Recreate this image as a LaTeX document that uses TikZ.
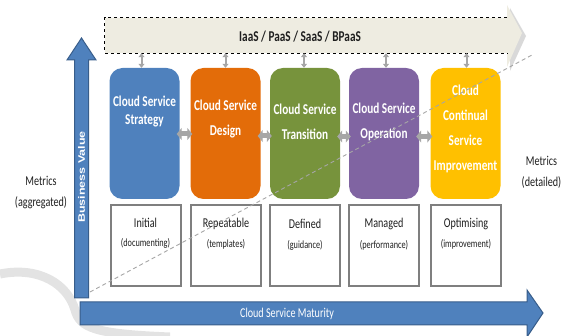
\documentclass[tikz,border=0pt]{standalone}
\usepackage{fontspec}
\setmainfont{Carlito}
\newfontfamily\cond[FakeStretch=0.75]{Carlito}
\newfontfamily\arialfam{Liberation Sans}
\usetikzlibrary{arrows.meta}
\definecolor{pblue}{HTML}{4F81BD}
\definecolor{pdark}{HTML}{385D8A}
\definecolor{porange}{HTML}{E36C09}
\definecolor{pgreen}{HTML}{77933C}
\definecolor{ppurple}{HTML}{8064A2}
\definecolor{pyellow}{HTML}{FFC000}
\definecolor{tan}{HTML}{EEECE1}
\definecolor{agray}{HTML}{A6A6A6}
\definecolor{lgray}{HTML}{7F7F7F}
\definecolor{txt}{HTML}{1F1F1F}
\tikzset{
  phase/.style={rounded corners=13pt, minimum width=70pt, minimum height=131pt, inner sep=0pt, draw=none},
  ptext/.style={text=white, font=\cond\bfseries\fontsize{15}{25}\selectfont, align=center, inner sep=0pt},
  lvl/.style={draw=lgray, line width=2pt, fill=white, minimum width=70pt, minimum height=81pt, inner sep=0pt},
  ltitle/.style={text=txt, font=\cond\fontsize{13.5}{16}\selectfont, inner sep=0pt},
  lsub/.style={text=txt, font=\cond\fontsize{11}{13}\selectfont, inner sep=0pt},
  metric/.style={text=txt, font=\cond\fontsize{13.5}{21}\selectfont, align=center, inner sep=0pt},
  hlink/.style={agray, line width=5pt, {Triangle[width=12pt,length=5pt]}-{Triangle[width=12pt,length=5pt]}, shorten <=-3pt, shorten >=-2pt},
  vlink/.style={agray, line width=2pt, {Triangle[width=6pt,length=4pt]}-{Triangle[width=6pt,length=4pt]}},
  bigarrow/.style={fill=pblue, draw=pdark, line width=1pt}
}
\begin{document}
\begin{tikzpicture}[x=1pt,y=-1pt]
\useasboundingbox (0,0) rectangle (566,336);
% watermark swoosh
\draw[gray!22, line width=9pt] (0,274) .. controls (40,266) and (68,285) .. (75,310) .. controls (80,328) and (95,334) .. (170,337);
% banner arrow
\fill[gray!30] (510,8) -- (526,36) -- (510,71) -- cycle;
\fill[tan] (105,18) -- (507,18) -- (507,5) -- (522,33) -- (507,67) -- (507,53) -- (105,53) -- cycle;
\node[minimum width=402pt, minimum height=35pt, inner sep=0pt] (banner) at (306,35.5) {};
\draw[dashed, line width=0.8pt] (banner.north east) -- (banner.north west) -- (banner.south west) -- (banner.south east);
\node[text=txt, font=\cond\bfseries\fontsize{15}{18}\selectfont, inner sep=0pt] (bannertext) at (300,37) {IaaS / PaaS / SaaS / BPaaS};
% business value arrow
\draw[bigarrow] (74.5,298) -- (74.5,60) -- (67,60) -- (81.5,38) -- (96,60) -- (88.5,60) -- (88.5,298) -- cycle;
\node[rotate=90, text=white, font=\arialfam\bfseries\fontsize{12.5}{14}\selectfont, inner sep=0pt] (bv) at (81.5,177) {\scalebox{1}[0.75]{Business Value}};
% maturity arrow
\draw[bigarrow] (80,302) -- (527,302) -- (527,290) -- (543,313) -- (527,337) -- (527,325) -- (80,325) -- cycle;
\node[text=white, font=\cond\fontsize{13.5}{16}\selectfont, inner sep=0pt] (cm) at (287,314) {Cloud Service Maturity};
% phase boxes
\node[phase, fill=pblue] (p1) at (144.5,133.5) {};
\node[phase, fill=porange] (p2) at (225.5,133.5) {};
\node[phase, fill=pgreen] (p3) at (305,133.5) {};
\node[phase, fill=ppurple] (p4) at (384,133.5) {};
\node[phase, fill=pyellow] (p5) at (465.5,133.5) {};
\node[ptext, font=\cond\bfseries\fontsize{15}{18}\selectfont] (t1) at (144.5,112) {Cloud Service\\Strategy};
\node[ptext] (t2) at (225.5,119) {Cloud Service\\Design};
\node[ptext] (t3) at (305,121.5) {Cloud Service\\Transition};
\node[ptext] (t4) at (384,121.5) {Cloud Service\\Operation};
\node[ptext] (t5) at (465.5,129) {Cloud\\Continual\\Service\\Improvement};
% level boxes
\node[lvl] (l1) at (145.5,245.5) {};
\node[lvl] (l2) at (226,245.5) {};
\node[lvl] (l3) at (305,245.5) {};
\node[lvl] (l4) at (384,245.5) {};
\node[lvl] (l5) at (466,245.5) {};
\node[ltitle] (l1a) at (145.5,223) {Initial};
\node[lsub] (l1b) at (145.5,243) {(documenting)};
\node[ltitle] (l2a) at (226,224) {Repeatable};
\node[lsub] (l2b) at (226,244) {(templates)};
\node[ltitle] (l3a) at (305,224) {Defined};
\node[lsub] (l3b) at (305,245) {(guidance)};
\node[ltitle] (l4a) at (384,224) {Managed};
\node[lsub] (l4b) at (384,245) {(performance)};
\node[ltitle] (l5a) at (466,224) {Optimising};
\node[lsub] (l5b) at (466,244) {(improvement)};
% links between phases
\draw[hlink] ([yshift=-0.5pt]p1.east) -- ([yshift=-0.5pt]p2.west);
\draw[hlink] ([yshift=-2.5pt]p2.east) -- ([yshift=-2.5pt]p3.west);
\draw[hlink] ([yshift=-3pt]p3.east) -- ([yshift=-3pt]p4.west);
\draw[hlink] ([yshift=-3pt]p4.east) -- ([yshift=-3pt]p5.west);
% links to banner
\foreach \p/\dx in {p1/-3,p2/0,p3/-1,p4/2,p5/1}{
  \draw[vlink] ([xshift=\dx pt]\p.north) -- ([xshift=\dx pt]\p.north |- banner.south);
}
% dashed trend line
\coordinate (d1) at (90,292);
\coordinate (d2) at (532,55);
\draw[gray!70, dashed, line width=0.9pt, dash pattern=on 4pt off 3pt] (d1) -- (d2);
% metrics
\node[metric] (ml) at (41,192.5) {Metrics\\(aggregated)};
\node[metric] (mr) at (541.5,172.5) {Metrics\\(detailed)};
\end{tikzpicture}
\end{document}
